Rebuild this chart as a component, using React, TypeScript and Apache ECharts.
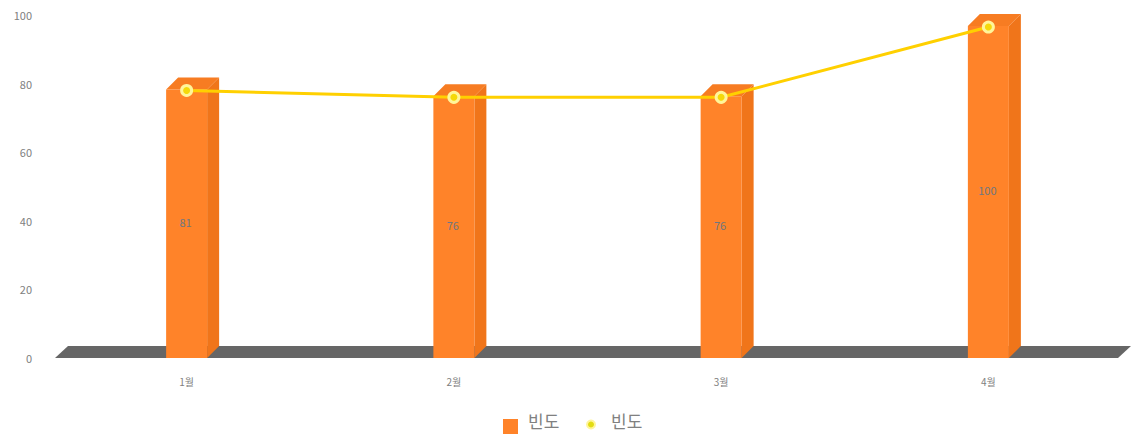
import React, { useEffect, useRef } from "react";
import * as echarts from "echarts";

const categories = ["1월", "2월", "3월", "4월"];
const barValues = [78.3, 76.3, 76.3, 96.8];
const lineValues = [78, 76, 76, 96.5];
const barLabels = ["81", "76", "76", "100"];
const yTicks = [0, 20, 40, 60, 80, 100];
const BAR_NAME = "빈도 막대";
const LINE_NAME = "빈도 선";
const LEGEND_TEXT = "빈도";

const FONT = '"Noto Sans CJK KR", "Noto Sans", sans-serif';
const TEXT = "#808080";

export default function App() {
  const ref = useRef<HTMLDivElement>(null);
  useEffect(() => {
    const chart = echarts.init(ref.current!, undefined, { renderer: "svg" });
    const DEPTH = 12;
    const BAR_W = 41;
    chart.setOption({
      animation: false,
      backgroundColor: "#fff",
      grid: { left: 53, right: 9, top: 15, bottom: 79 },
      xAxis: {
        type: "category",
        data: categories,
        axisLine: { show: false },
        axisTick: { show: false },
        axisLabel: { color: TEXT, fontSize: 10, fontFamily: FONT, margin: 18 },
      },
      yAxis: {
        type: "value",
        min: yTicks[0],
        max: yTicks[yTicks.length - 1],
        interval: 20,
        axisLine: { show: false },
        axisTick: { show: false },
        splitLine: { show: false },
        axisLabel: { color: TEXT, fontSize: 11, fontFamily: FONT, margin: 21 },
      },
      legend: [
        {
          data: [{ name: BAR_NAME, icon: "rect" }],
          left: 503, top: 412, itemWidth: 15, itemHeight: 15, itemGap: 8,
          formatter: () => `{t|${LEGEND_TEXT}}`,
          textStyle: {
            color: TEXT, fontSize: 17, fontFamily: FONT, padding: [0, 0, 0, 5],
            rich: { t: { color: TEXT, fontSize: 17, fontFamily: FONT, height: 24, padding: [0, 0, 12, 0] } },
          },
          padding: 0,
        },
        {
          data: [{ name: LINE_NAME, icon: "circle" }],
          left: 586, top: 412, itemWidth: 8, itemHeight: 8, itemGap: 8,
          formatter: () => `{t|${LEGEND_TEXT}}`,
          textStyle: {
            color: TEXT, fontSize: 17, fontFamily: FONT, padding: [0, 0, 0, 11],
            rich: { t: { color: TEXT, fontSize: 17, fontFamily: FONT, height: 24, padding: [0, 0, 8, 0] } },
          },
          padding: 0,
          itemStyle: { color: "#E3DC12" },
        },
      ],
      series: [
        {
          type: "custom",
          name: "바닥",
          silent: true,
          z: 1,
          data: [[0]],
          encode: { y: 0 },
          renderItem: (p: any, api: any) => {
            const cs = p.coordSys;
            const y0 = api.coord([0, 0])[1];
            const x0 = cs.x + 2;
            const x1 = cs.x + cs.width - 4;
            return {
              type: "polygon",
              shape: {
                points: [
                  [x0, y0],
                  [x0 + DEPTH + 1, y0 - DEPTH],
                  [x1 + 13, y0 - DEPTH],
                  [x1, y0],
                ],
              },
              style: { fill: "#666666" },
            };
          },
        },
        {
          type: "custom",
          name: BAR_NAME,
          z: 2,
          itemStyle: { color: "#FF8329" },
          data: barValues.map((v, i) => [i, v, barLabels[i]]),
          encode: { x: 0, y: 1 },
          renderItem: (_p: any, api: any) => {
            const [x, yTop] = api.coord([api.value(0), api.value(1)]);
            const y0 = api.coord([api.value(0), 0])[1];
            const l = x - BAR_W / 2;
            const r = l + BAR_W;
            return {
              type: "group",
              children: [
                {
                  type: "polygon",
                  shape: { points: [[r, yTop], [r + DEPTH, yTop - DEPTH], [r + DEPTH, y0 - DEPTH], [r, y0]] },
                  style: { fill: "#F0751A" },
                },
                {
                  type: "polygon",
                  shape: { points: [[l, yTop], [l + DEPTH, yTop - DEPTH], [r + DEPTH, yTop - DEPTH], [r, yTop]] },
                  style: { fill: "#F77C22" },
                },
                {
                  type: "rect",
                  shape: { x: l, y: yTop, width: BAR_W, height: y0 - yTop },
                  style: { fill: "#FF8329" },
                },
                {
                  type: "text",
                  style: {
                    x: x - 1,
                    y: (yTop + y0) / 2 - 2,
                    text: String(api.value(2)),
                    fill: "#6F7780",
                    fontSize: 11,
                    fontFamily: FONT,
                    align: "center",
                    verticalAlign: "middle",
                  },
                },
              ],
            };
          },
        },
        {
          type: "line",
          name: LINE_NAME,
          z: 3,
          data: lineValues,
          symbol: "circle",
          symbolSize: 10,
          lineStyle: { color: "#FFD000", width: 3 },
          itemStyle: { color: "#F5D90A", borderColor: "#FFF59A", borderWidth: 3 },
        },
      ],
    });
    return () => chart.dispose();
  }, []);
  return <div ref={ref} style={{ width: 1131, height: 437, position: "absolute", left: 0, top: 0 }} />;
}
